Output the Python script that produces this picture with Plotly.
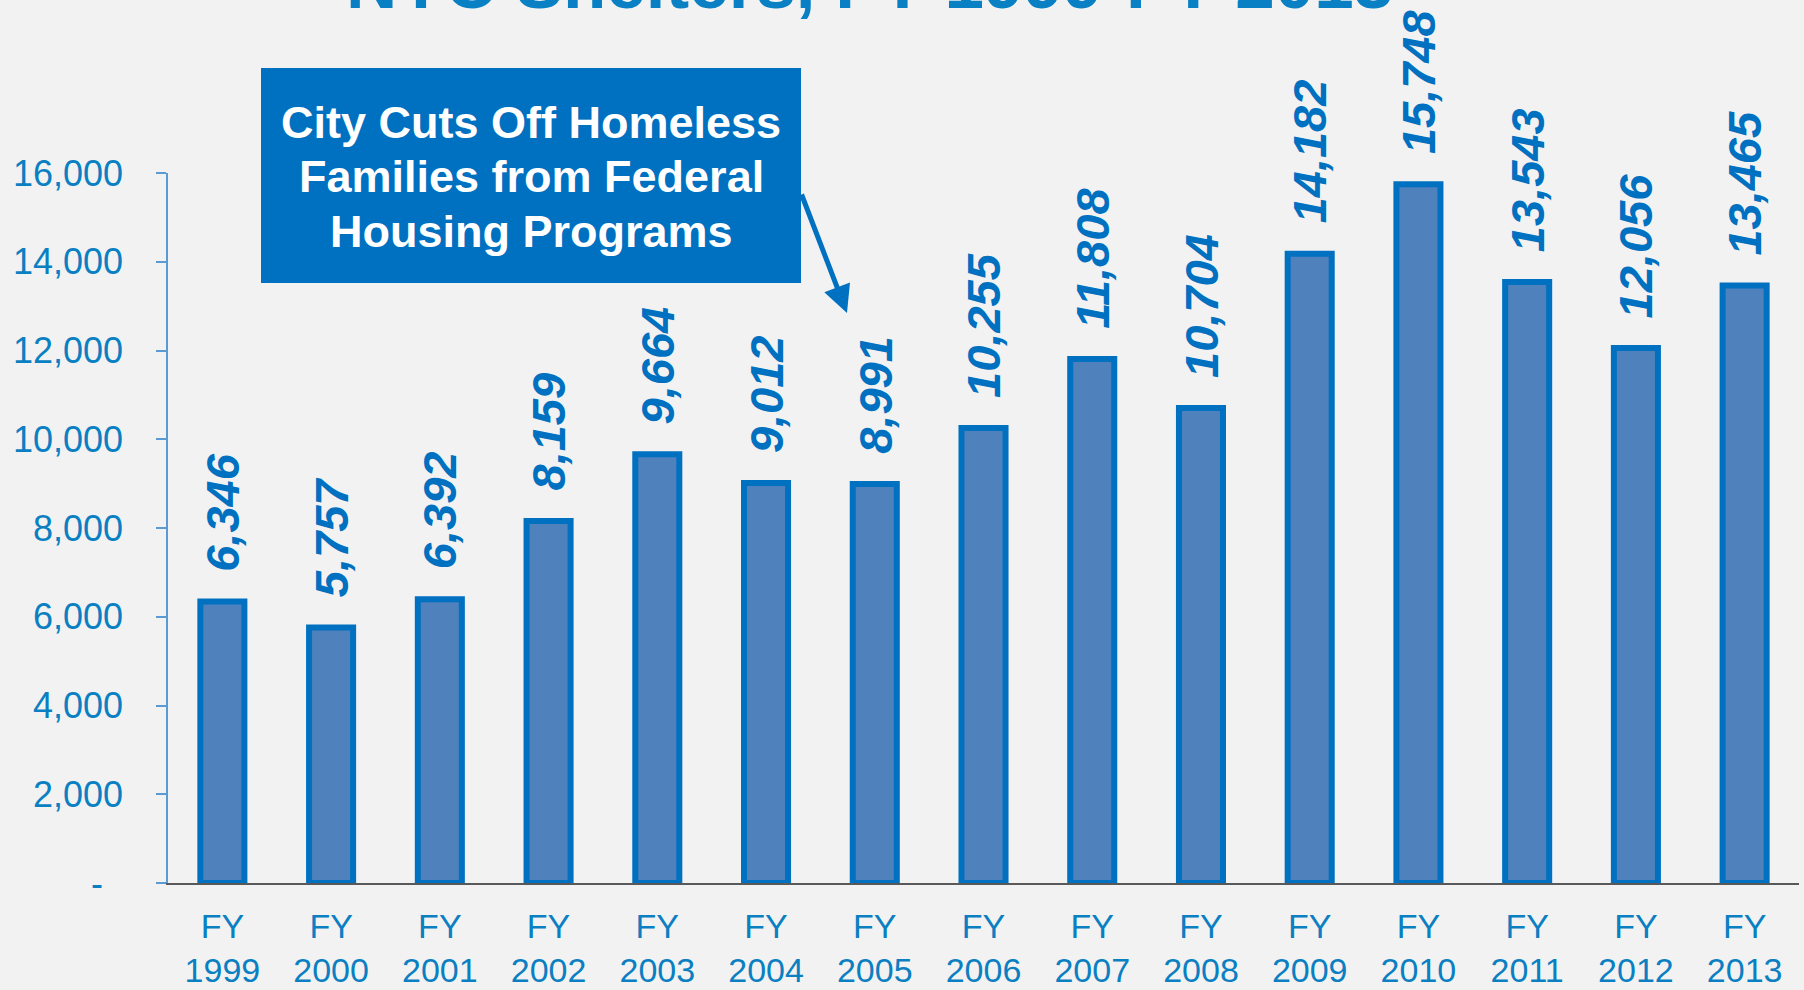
import plotly.graph_objects as go

# Fiscal years and family counts
years = ["1999", "2000", "2001", "2002", "2003", "2004", "2005", "2006",
         "2007", "2008", "2009", "2010", "2011", "2012", "2013"]
families = [6346, 5757, 6392, 8159, 9664, 9012, 8991, 10255,
            11808, 10704, 14182, 15748, 13543, 12056, 13465]

y_ticks = [0, 2000, 4000, 6000, 8000, 10000, 12000, 14000, 16000]
y_tick_text = ["-\u00a0\u00a0"] + [f"{v:,}" for v in y_ticks[1:]]

title_text = "NYC Shelters, FY 1999-FY 2013"
callout_lines = ["City Cuts Off Homeless", "Families from Federal", "Housing Programs"]

FONT = "Liberation Sans, Arial, sans-serif"
BLUE = "#0070C0"
FILL = "#4F81BD"
TICK_BLUE = "#0A7FC2"
BG = "#F2F2F2"

# category labels shown under each bar
x_labels = [f"FY<br>{y}" for y in years]

fig = go.Figure()
fig.add_trace(go.Bar(
    x=x_labels,
    y=families,
    width=0.405,
    marker=dict(color=FILL, line=dict(color=BLUE, width=6)),
    hoverinfo="y",
))

annotations = []
# rotated value labels above each bar
for lab, v in zip(x_labels, families):
    annotations.append(dict(
        x=lab, y=v, xref="x", yref="y",
        text=f"{v:,}", showarrow=False, textangle=-90,
        xanchor="center", yanchor="bottom", yshift=28,
        font=dict(family=FONT, size=47, color=BLUE, weight="bold", style="italic"),
    ))

# title line (top edge of the page cuts into it)
annotations.append(dict(
    x=0.430, y=1.2085, xref="paper", yref="paper",
    text=title_text, showarrow=False, xanchor="center", yanchor="bottom",
    font=dict(family=FONT, size=71, color="#0A80C4", weight="bold"),
))

# callout text lines
line_y = [1.0707, 0.9953, 0.9183]
for txt, ly in zip(callout_lines, line_y):
    annotations.append(dict(
        x=0.2226, y=ly, xref="paper", yref="paper",
        text=txt, showarrow=False, xanchor="center", yanchor="middle",
        font=dict(family=FONT, size=45, color="white", weight="bold"),
    ))

# arrow from the callout to FY 2005
annotations.append(dict(
    x=0.4163, y=0.8028, xref="paper", yref="paper",
    text="", showarrow=True, ax=-46, ay=-120,
    arrowhead=2, arrowsize=1.1, arrowwidth=5, arrowcolor=BLUE, standoff=0,
))

fig.update_layout(
    width=1804, height=990,
    margin=dict(l=168, r=5, t=173, b=107),
    paper_bgcolor=BG, plot_bgcolor=BG,
    showlegend=False,
    annotations=annotations,
    shapes=[dict(
        type="rect", xref="paper", yref="paper", layer="above",
        x0=(261 - 168) / 1631, x1=(801 - 168) / 1631,
        y0=(883 - 283) / 710, y1=(883 - 68) / 710,
        fillcolor=BLUE, line=dict(width=0),
    )],
    xaxis=dict(
        type="category", automargin=False,
        showline=True, linecolor="#595959", linewidth=2,
        ticks="", showgrid=False, zeroline=False,
        tickfont=dict(family=FONT, size=34, color=TICK_BLUE),
        ticklabelstandoff=12,
        range=[-0.5, 14.5],
    ),
    yaxis=dict(
        range=[0, 16000], tickmode="array", tickvals=y_ticks, ticktext=y_tick_text,
        automargin=False,
        showline=True, linecolor="#5B9BD5", linewidth=1.5,
        ticks="outside", ticklen=10, tickcolor="#5B9BD5", tickwidth=1.5,
        showgrid=False, zeroline=False,
        tickfont=dict(family=FONT, size=36, color=TICK_BLUE),
        ticklabelstandoff=26,
    ),
)

fig.write_html("out.html")
